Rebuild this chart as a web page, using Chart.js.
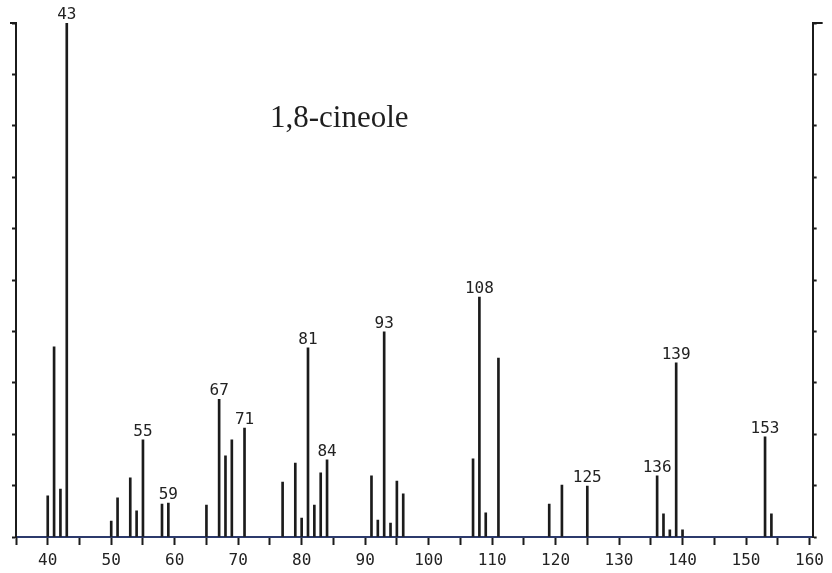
<!DOCTYPE html>
<html>
<head>
<meta charset="utf-8">
<script src="https://cdn.jsdelivr.net/npm/chart.js@4/dist/chart.umd.min.js"></script>
<style>
  html, body { margin: 0; padding: 0; background: #fff; }
  #wrap { width: 832px; height: 573px; position: relative; }
</style>
</head>
<body>
<div id="wrap"><canvas id="msChart"></canvas></div>
<script>
// m/z and relative intensity (%) of each line
const mzValues = [40, 41, 42, 43, 50, 51, 53, 54, 55, 58, 59, 65, 67, 68, 69, 71,
    77, 79, 80, 81, 82, 83, 84, 91, 92, 93, 94, 95, 96, 107, 108, 109, 111,
    119, 121, 125, 136, 137, 138, 139, 140, 153, 154];
const intensities = [8.0, 37.0, 9.3, 100, 3.1, 7.6, 11.5, 5.1, 18.9, 6.4, 6.6, 6.2, 26.8, 15.8, 18.9, 21.2,
    10.7, 14.4, 3.7, 36.8, 6.2, 12.5, 15.0, 11.9, 3.3, 39.9, 2.7, 10.9, 8.4, 15.2, 46.7, 4.7, 34.8,
    6.4, 10.1, 9.9, 11.9, 4.5, 1.4, 33.9, 1.4, 19.5, 4.5];
// peaks that get their m/z printed above them
const labelledPeaks = [43, 55, 59, 67, 71, 81, 84, 93, 108, 125, 136, 139, 153];
// labelled ticks on the m/z axis (minor ticks every 5 in between)
const mzTickLabels = [40, 50, 60, 70, 80, 90, 100, 110, 120, 130, 140, 150, 160];
const compoundName = "1,8-cineole";

const INK = '#1b1b1b';
const BASE = '#2c3a6c';
const MONO = '"DejaVu Sans Mono", "Liberation Mono", monospace';

const peakLabels = {
    id: 'peakLabels',
    afterDatasetsDraw(chart) {
        const ctx = chart.ctx;
        const meta = chart.getDatasetMeta(0);
        const area = chart.chartArea;
        ctx.save();
        ctx.fillStyle = '#222';
        ctx.font = '16px ' + MONO;
        ctx.textAlign = 'center';
        ctx.textBaseline = 'alphabetic';
        meta.data.forEach((bar, i) => {
            if (labelledPeaks.includes(mzValues[i])) {
                ctx.fillText(String(mzValues[i]), bar.x, bar.y - 4);
            }
        });
        // caps on the top of both intensity axes
        ctx.strokeStyle = INK;
        ctx.lineWidth = 2;
        ctx.beginPath();
        ctx.moveTo(area.left - 6, area.top);
        ctx.lineTo(area.left, area.top);
        ctx.moveTo(area.right, area.top);
        ctx.lineTo(area.right + 10, area.top);
        ctx.stroke();
        // compound name
        ctx.fillStyle = '#1e1e1e';
        ctx.font = '31px "Liberation Serif", "DejaVu Serif", serif';
        ctx.textAlign = 'left';
        ctx.fillText(compoundName, 270, 127);
        ctx.restore();
    }
};

const ctx = document.getElementById('msChart').getContext('2d');
new Chart(ctx, {
    type: 'bar',
    data: {
        datasets: [{
            data: mzValues.map((mz, i) => ({ x: mz, y: intensities[i] })),
            backgroundColor: INK,
            borderWidth: 0,
            barThickness: 2
        }]
    },
    options: {
        responsive: true,
        maintainAspectRatio: false,
        animation: false,
        layout: { padding: { left: 12, right: 13, top: 23, bottom: -4 } },
        plugins: { legend: { display: false }, tooltip: { enabled: false } },
        scales: {
            x: {
                type: 'linear',
                offset: false,
                min: 35,
                max: 160.5,
                afterBuildTicks: axis => {
                    const ticks = [];
                    for (let v = 35; v <= 160; v += 5) ticks.push({ value: v });
                    axis.ticks = ticks;
                },
                ticks: {
                    autoSkip: false,
                    maxRotation: 0,
                    padding: 8,
                    color: '#222',
                    font: { family: MONO, size: 16, lineHeight: 1 },
                    callback: v => mzTickLabels.includes(v) ? String(v) : ''
                },
                grid: { offset: false, drawOnChartArea: false, drawTicks: true, tickLength: 8, tickWidth: 2, tickColor: INK },
                border: { display: true, color: BASE, width: 2 }
            },
            y: {
                position: 'left',
                min: 0,
                max: 100,
                ticks: { display: false, stepSize: 10 },
                grid: { drawOnChartArea: false, drawTicks: true, tickLength: 4, tickWidth: 2, tickColor: INK },
                border: { display: true, color: INK, width: 2 }
            },
            y2: {
                position: 'right',
                min: 0,
                max: 100,
                ticks: { display: false, stepSize: 10 },
                grid: { drawOnChartArea: false, drawTicks: true, tickLength: 4, tickWidth: 2, tickColor: INK },
                border: { display: true, color: INK, width: 2 }
            }
        }
    },
    plugins: [peakLabels]
});
</script>
</body>
</html>
